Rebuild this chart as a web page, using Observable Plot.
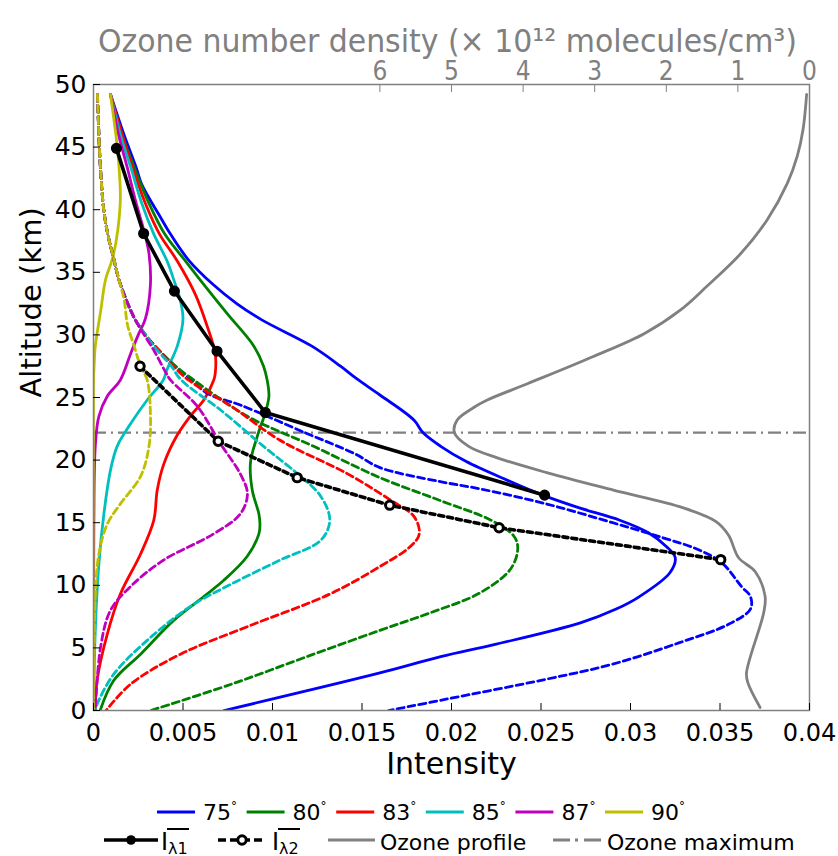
<!DOCTYPE html>
<html><head><meta charset="utf-8">
<script src="https://cdn.jsdelivr.net/npm/d3@7"></script>
<script src="https://cdn.jsdelivr.net/npm/@observablehq/plot@0.6"></script>
<style>body{margin:0;background:#fff;} #chart svg{display:block}</style>
</head><body><div id="chart"></div><script>
// ---------- data ----------
const angleValues = [75, 80, 83, 85, 87, 90];
const angleColors = ["#0000ff", "#008000", "#ff0000", "#00bfbf", "#bf00bf", "#bfbf00"];

const xTicks = [0, 0.005, 0.01, 0.015, 0.02, 0.025, 0.03, 0.035, 0.04];
const xTickLabels = ["0", "0.005", "0.01", "0.015", "0.02", "0.025", "0.03", "0.035", "0.04"];
const yTicks = [0, 5, 10, 15, 20, 25, 30, 35, 40, 45, 50];
const ozoneTicks = [0, 1, 2, 3, 4, 5, 6];
const ozoneAxisMax = 10; // top axis runs 10 .. 0 across the intensity range

// solid curves (I_lambda1 per solar zenith angle)
const s75Alt = [49.2, 46, 43.3, 42, 39.5, 38.05, 36, 34, 32.5, 31.2, 29.1, 27.5, 26.5, 25.2, 23.2, 22.2, 21.1, 19.9, 18.4, 17.2, 16.2, 15.2, 14.2, 13.1, 12.2, 11.0, 9.1, 8.1, 7.0, 5.3, 4.3, 3.0, 0];
const s75I   = [0.00095, 0.0017, 0.0024, 0.0027, 0.0037, 0.0043, 0.0053, 0.0067, 0.008, 0.0094, 0.0122, 0.0138, 0.0147, 0.016, 0.0179, 0.0184, 0.0194, 0.0208, 0.0231, 0.0251, 0.0271, 0.0294, 0.031, 0.032, 0.0325, 0.0322, 0.0305, 0.0292, 0.0272, 0.0225, 0.0194, 0.016, 0.0073];
const s80Alt = [49.2, 46, 43.3, 40.5, 38.05, 35.9, 34.5, 31.7, 29.1, 27.5, 26.4, 25.1, 23.8, 21.9, 19.8, 17.6, 15.7, 14.9, 14.1, 12.3, 10.4, 9.1, 7.2, 4.5, 2.4, 0];
const s80I   = [0.00095, 0.0016, 0.0023, 0.0031, 0.00398, 0.00514, 0.0059, 0.00747, 0.00896, 0.0095, 0.0097, 0.0098, 0.0096, 0.00915, 0.00877, 0.00887, 0.00924, 0.0093, 0.00924, 0.00858, 0.00728, 0.00616, 0.00448, 0.00263, 0.00113, 0.00037];
const s83Alt = [49.2, 46, 43.3, 40.5, 38.05, 35.9, 33.2, 30.7, 28.5, 26.9, 26.4, 24.8, 23.5, 22, 19.7, 17.6, 15.2, 12.5, 9.3, 6.1, 2.4, 0];
const s83I   = [0.00095, 0.0016, 0.0022, 0.0029, 0.00369, 0.00468, 0.0057, 0.00635, 0.0068, 0.0068, 0.00672, 0.00616, 0.0054, 0.00468, 0.00393, 0.00356, 0.00337, 0.00263, 0.0015, 0.00077, 0.0002, 0.0001];
const s85Alt = [49.2, 46, 43.3, 40.5, 38.05, 35.9, 34, 33.2, 31.3, 29.1, 27.2, 26.4, 24.8, 22.9, 21.1, 19.2, 15.7, 11.7, 6.4, 0];
const s85I   = [0.00095, 0.0015, 0.0021, 0.0027, 0.00337, 0.00411, 0.00458, 0.00477, 0.005, 0.00468, 0.0041, 0.0039, 0.003, 0.00207, 0.00132, 0.00095, 0.00058, 0.0003, 0.0001, 0];
const s87Alt = [49.2, 46, 43.3, 40.7, 38.05, 36.5, 34, 31.3, 30.1, 28.6, 26.4, 25.1, 23.5, 21.1, 15, 0];
const s87I   = [0.00095, 0.0014, 0.0019, 0.00235, 0.00287, 0.0031, 0.00318, 0.0029, 0.00253, 0.0021, 0.0015, 0.00077, 0.0003, 0.0001, 0.00002, 0];
const s90Alt = [49.2, 46, 44.7, 42.4, 40.8, 38.3, 36.5, 35.6, 34.4, 31.9, 29.1, 27.4, 26.4, 0];
const s90I   = [0.00095, 0.00125, 0.00135, 0.00147, 0.0015, 0.00135, 0.00113, 0.00095, 0.00067, 0.0004, 0.0001, 0.00003, 0, 0];

// dashed curves (I_lambda2 per solar zenith angle)
const d75Alt = [49.2, 46, 43.3, 39.9, 37.7, 36.1, 34.5, 32.9, 31.3, 30, 28.7, 27.6, 26.6, 25.3, 24.4, 22.2, 20.5, 19.4, 18.3, 17.7, 16.5, 15.0, 13.8, 12.9, 11.8, 9.9, 9.1, 8.1, 6.9, 5.4, 3.7, 2.5, 0.9, 0];
const d75I   = [0.00022, 0.0003, 0.00039, 0.00058, 0.00085, 0.00113, 0.0014, 0.0018, 0.0023, 0.0029, 0.0037, 0.0045, 0.0053, 0.0064, 0.0082, 0.0118, 0.0146, 0.016, 0.0193, 0.0216, 0.0253, 0.029, 0.0318, 0.0337, 0.0351, 0.0362, 0.0367, 0.0367, 0.0355, 0.0327, 0.029, 0.0253, 0.0197, 0.0165];
const d80Alt = [49.2, 46, 43.3, 39.9, 37.7, 36.1, 34.5, 32.9, 31.3, 30, 28.7, 27.6, 26.4, 23.5, 21.1, 18.6, 16.7, 15.2, 13.9, 12.9, 11.3, 9.4, 7.8, 6.4, 4.5, 2.1, 0];
const d80I   = [0.00022, 0.0003, 0.00039, 0.00058, 0.00085, 0.00113, 0.0014, 0.0018, 0.0023, 0.0029, 0.0037, 0.0045, 0.0056, 0.0086, 0.0123, 0.016, 0.0195, 0.0222, 0.0235, 0.0237, 0.0233, 0.0216, 0.0188, 0.016, 0.0123, 0.0077, 0.0032];
const d83Alt = [49.2, 46, 43.3, 39.9, 37.7, 36.1, 34.5, 32.9, 31.3, 30, 28.7, 27.6, 26.4, 24.3, 21.6, 18.9, 16.8, 15.5, 14.1, 13.1, 11.5, 9.3, 6.7, 4.5, 2.1, 0];
const d83I   = [0.00022, 0.0003, 0.00039, 0.00058, 0.00085, 0.00113, 0.0014, 0.0018, 0.0023, 0.0029, 0.0037, 0.0044, 0.0053, 0.0077, 0.0104, 0.0142, 0.0166, 0.0179, 0.0182, 0.0177, 0.016, 0.0132, 0.0086, 0.00486, 0.00207, 0.0007];
const d85Alt = [49.2, 46, 43.3, 39.9, 37.7, 36.1, 34.5, 32.9, 31.3, 30, 28.7, 27.6, 26.4, 24, 21.1, 18.9, 17.1, 15.2, 13.6, 12, 10.1, 8.3, 5.6, 2.9, 0.5, 0];
const d85I   = [0.00022, 0.0003, 0.00039, 0.00058, 0.00085, 0.00113, 0.0014, 0.0018, 0.0023, 0.0029, 0.0036, 0.0043, 0.0049, 0.0071, 0.0095, 0.0114, 0.0127, 0.0132, 0.0127, 0.0104, 0.0077, 0.0054, 0.003, 0.00113, 0.0002, 0.0001];
const d87Alt = [49.2, 46, 43.3, 39.9, 37.7, 36.1, 34.5, 32.9, 31.3, 30.3, 28.7, 27.1, 26.4, 24.3, 21.3, 18.9, 17.3, 15.7, 14.1, 12, 9.9, 8, 5.1, 0];
const d87I   = [0.00022, 0.0003, 0.00039, 0.00058, 0.00085, 0.00113, 0.0014, 0.0018, 0.0023, 0.0027, 0.0034, 0.004, 0.0043, 0.0058, 0.0071, 0.0082, 0.0086, 0.0082, 0.0067, 0.0039, 0.00207, 0.00095, 0.0004, 0.0001];
const d90Alt = [49.2, 46, 43.3, 39.9, 37.7, 36.1, 34.5, 32.9, 30.8, 29.2, 27.5, 26.4, 23.7, 21.1, 18.7, 16.5, 14.9, 12.5, 9.1, 0];
const d90I   = [0.00022, 0.0003, 0.00039, 0.00058, 0.00085, 0.00113, 0.0014, 0.0017, 0.0019, 0.00225, 0.00263, 0.003, 0.00318, 0.0031, 0.00263, 0.0015, 0.00077, 0.0003, 0.0001, 0];

// mean intensities with markers
const lam1Alt = [44.9, 38.1, 33.5, 28.7, 23.8, 17.2];
const lam1I   = [0.00128, 0.0028, 0.00452, 0.0069, 0.0096, 0.0252];
const lam2Alt = [27.5, 21.5, 18.6, 16.4, 14.6, 12.05];
const lam2I   = [0.0026, 0.00697, 0.01138, 0.01655, 0.02266, 0.03504];

// ozone profile (10^12 molecules/cm^3)
const ozoneAlt  = [49.2, 46.4, 44.3, 42.1, 39.2, 36.5, 33.9, 32, 30.1, 28.3, 26.1, 24.8, 24.2, 23.2, 22.2, 21.1, 20.2, 19.0, 17.6, 16.2, 15.1, 14.0, 12.2, 11.1, 9.1, 7.8, 3.0, 2.2, 0.24];
const ozoneDens = [0.04, 0.09, 0.17, 0.31, 0.59, 0.96, 1.43, 1.80, 2.31, 3.01, 3.94, 4.50, 4.69, 4.92, 4.96, 4.76, 4.37, 3.67, 2.74, 1.77, 1.31, 1.13, 0.99, 0.76, 0.62, 0.64, 0.88, 0.86, 0.69];
const ozoneMaxAlt = [22.2];

// ---------- build ----------
const xDomain = [0, 0.04];
const densToI = v => xDomain[1] * (1 - v / ozoneAxisMax);
const rows = (alts, vals) => alts.map((a, i) => ({alt: a, I: vals[i]}));
const solidSets  = [[s75Alt, s75I], [s80Alt, s80I], [s83Alt, s83I], [s85Alt, s85I], [s87Alt, s87I], [s90Alt, s90I]];
const dashedSets = [[d75Alt, d75I], [d80Alt, d80I], [d83Alt, d83I], [d85Alt, d85I], [d87Alt, d87I], [d90Alt, d90I]];
const ozoneRows = ozoneAlt.map((a, i) => ({alt: a, I: densToI(ozoneDens[i])}));
const lam1Rows = rows(lam1Alt, lam1I);
const lam2Rows = rows(lam2Alt, lam2I);

const W = 838, H = 800, mL = 93, mR = 29, mT = 84, mB = 90;
const frameW = W - mL - mR, frameH = H - mT - mB;
const gray = "#808080";

const marks = [
  Plot.line(ozoneRows, {x: "I", y: "alt", stroke: gray, strokeWidth: 2.8, curve: "catmull-rom", clip: true}),
  Plot.ruleY(ozoneMaxAlt, {stroke: gray, strokeWidth: 2.2, strokeDasharray: "13,5,2,5"}),
];
solidSets.forEach(([a, v], i) => marks.push(
  Plot.line(rows(a, v), {x: "I", y: "alt", stroke: angleColors[i], strokeWidth: 2.8, curve: "catmull-rom", clip: true})));
dashedSets.forEach(([a, v], i) => marks.push(
  Plot.line(rows(a, v), {x: "I", y: "alt", stroke: angleColors[i], strokeWidth: 2.8, strokeDasharray: "7,4", curve: "catmull-rom", clip: true})));
marks.push(
  Plot.line(lam1Rows, {x: "I", y: "alt", stroke: "black", strokeWidth: 3.6}),
  Plot.dot(lam1Rows, {x: "I", y: "alt", r: 4.8, fill: "black", stroke: "black"}),
  Plot.line(lam2Rows, {x: "I", y: "alt", stroke: "black", strokeWidth: 3.6, strokeDasharray: "5,4"}),
  Plot.dot(lam2Rows, {x: "I", y: "alt", r: 4.2, fill: "white", stroke: "black", strokeWidth: 3}),
  Plot.frame({stroke: gray, strokeWidth: 1.5}),
  Plot.tickX(xTicks, {x: d => d, insetTop: frameH - 7, stroke: "black"}),
  Plot.tickY(yTicks, {y: d => d, insetRight: frameW - 7, stroke: "black"}),
  Plot.tickX(ozoneTicks.map(densToI), {x: d => d, insetBottom: frameH - 8, stroke: gray}),
  Plot.axisX(xTicks, {anchor: "bottom", tickSize: 0, tickPadding: 13, fontSize: 24, label: null,
    tickFormat: d => xTickLabels[xTicks.indexOf(d)]}),
  Plot.axisY(yTicks, {anchor: "left", tickSize: 0, tickPadding: 7, fontSize: 25, label: null}),
  Plot.axisX(ozoneTicks.map(densToI), {anchor: "top", tickSize: 0, tickPadding: 5, fontSize: 26, label: null,
    color: gray, fontFamily: "DejaVu Sans Condensed, DejaVu Sans",
    tickFormat: d => String(ozoneTicks[ozoneTicks.map(densToI).indexOf(d)])}),
  Plot.text(["Intensity"], {frameAnchor: "bottom", dy: 63, fontSize: 30, text: d => d}),
  Plot.text(["Altitude (km)"], {frameAnchor: "left", dx: -62, rotate: -90, fontSize: 29, text: d => d}),
  Plot.text(["Ozone number density (\u00d7 10\u00b9\u00b2 molecules/cm\u00b3)"], {frameAnchor: "top", dy: -55, dx: -4,
    fontSize: 32, fill: gray, fontFamily: "DejaVu Sans Condensed, DejaVu Sans", text: d => d})
);

const chart = Plot.plot({
  width: W, height: H, marginLeft: mL, marginRight: mR, marginTop: mT, marginBottom: mB,
  x: {domain: xDomain}, y: {domain: [0, 50]},
  style: {fontFamily: "DejaVu Sans", background: "white", color: "black", overflow: "visible"},
  marks
});
chart.querySelectorAll("text").forEach(t => {
  if (t.textContent.startsWith("Ozone number")) {
    t.setAttribute("textLength", "699");
    t.setAttribute("lengthAdjust", "spacingAndGlyphs");
  }
});
document.getElementById("chart").appendChild(chart);

// ---------- legend (below the plot) ----------
const leg = d3.create("svg").attr("width", W).attr("height", 56)
  .style("font-family", "DejaVu Sans").style("display", "block");
angleValues.forEach((v, i) => {
  const x0 = 157 + i * 89.6;
  leg.append("line").attr("x1", x0).attr("x2", x0 + 38).attr("y1", 12).attr("y2", 12)
    .attr("stroke", angleColors[i]).attr("stroke-width", 2.8);
  const t = leg.append("text").attr("x", x0 + 46).attr("y", 20).attr("font-size", 22);
  t.append("tspan").text(String(v));
  t.append("tspan").attr("font-size", 12).attr("dy", -10).text("\u00b0");
});
function lamLabel(x, sub) {
  leg.append("text").attr("x", x).attr("y", 50).attr("font-size", 24).text("I");
  leg.append("text").attr("x", x + 7).attr("y", 54).attr("font-size", 16).text(sub);
  leg.append("line").attr("x1", x + 6).attr("x2", x + 28).attr("y1", 29).attr("y2", 29)
    .attr("stroke", "black").attr("stroke-width", 2);
}
leg.append("line").attr("x1", 104).attr("x2", 158).attr("y1", 40).attr("y2", 40).attr("stroke", "black").attr("stroke-width", 3.6);
leg.append("circle").attr("cx", 131).attr("cy", 40).attr("r", 4.8).attr("fill", "black");
lamLabel(161, "\u03bb1");
leg.append("line").attr("x1", 218).attr("x2", 266).attr("y1", 40).attr("y2", 40).attr("stroke", "black")
  .attr("stroke-width", 3.6).attr("stroke-dasharray", "8,4");
leg.append("circle").attr("cx", 242).attr("cy", 40).attr("r", 4.2).attr("fill", "white").attr("stroke", "black").attr("stroke-width", 3);
lamLabel(272, "\u03bb2");
leg.append("line").attr("x1", 328).attr("x2", 375).attr("y1", 40).attr("y2", 40).attr("stroke", gray).attr("stroke-width", 3);
leg.append("text").attr("x", 380).attr("y", 50).attr("font-size", 22).text("Ozone profile");
leg.append("line").attr("x1", 553).attr("x2", 602).attr("y1", 40).attr("y2", 40).attr("stroke", gray)
  .attr("stroke-width", 3).attr("stroke-dasharray", "17,5,3,6");
leg.append("text").attr("x", 607).attr("y", 50).attr("font-size", 22).text("Ozone maximum");
document.getElementById("chart").appendChild(leg.node());
</script></body></html>
